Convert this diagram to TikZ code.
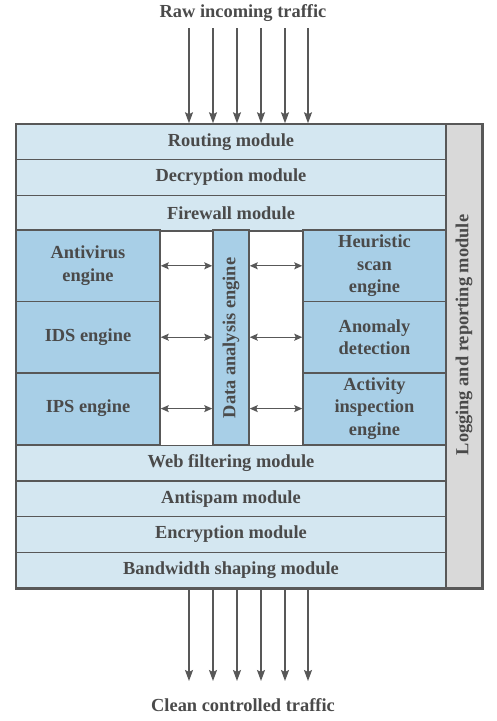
\documentclass[tikz,border=0pt]{standalone}
\usepackage{fontspec}
\setmainfont{Liberation Serif}
\usetikzlibrary{arrows.meta}
\definecolor{modfill}{HTML}{D4E7F1}
\definecolor{engfill}{HTML}{A8CFE7}
\definecolor{logfill}{HTML}{D9D9D9}
\definecolor{edge}{HTML}{585858}
\definecolor{txt}{HTML}{4A4A4A}
\begin{document}
\begin{tikzpicture}[x=1pt,y=-1pt,
  font=\fontsize{18.4}{22.5}\selectfont\bfseries,
  box/.style={draw=edge, line width=1.5pt, text=txt, inner sep=0pt, align=center},
  module/.style={box, fill=modfill, minimum width=430pt, minimum height=35.7pt},
  engine/.style={box, fill=engfill, minimum height=71.4pt},
  flow/.style={draw=edge, line width=1.7pt, -{Stealth[length=11pt,width=8pt,inset=2pt]}},
  dbl/.style={draw=edge, line width=1.1pt, {Stealth[length=8pt,width=7pt,inset=1.5pt]}-{Stealth[length=8pt,width=7pt,inset=1.5pt]}},
  lbl/.style={text=txt}]
\useasboundingbox (0,0) rectangle (496,721);
% top label and bottom label
\node[lbl] (raw) at (243,13) {Raw incoming traffic};
\node[lbl] (clean) at (243,705) {Clean controlled traffic};
% logging column
\node[box, fill=logfill, minimum width=36pt, minimum height=464pt] (log) at (464,356) {};
\node[lbl, rotate=90] (logtxt) at (464,335) {Logging and reporting module};
% top modules
\node[module] (routing) at (231,141.85) {Routing module};
\node[module] (decrypt) at (231,177.54) {Decryption module};
\node[module] (firewall) at (231,213.23) {Firewall module};
% engines
\node[engine, minimum width=144pt] (av) at (88,265.8) {Antivirus\\engine};
\node[engine, minimum width=144pt] (ids) at (88,337.2) {IDS engine};
\node[engine, minimum width=144pt] (ips) at (88,408.6) {IPS engine};
\node[engine, minimum width=143pt] (heur) at (374.5,265.8) {Heuristic\\scan\\engine};
\node[engine, minimum width=143pt] (anom) at (374.5,337.2) {Anomaly\\detection};
\node[engine, minimum width=143pt] (act) at (374.5,408.6) {Activity\\inspection\\engine};
\node[box, fill=engfill, minimum width=36pt, minimum height=214.2pt] (dae) at (231,337.2) {};
\node[lbl, rotate=90] (daetxt) at (231,338) {Data analysis engine};
% bottom modules
\node[module] (web) at (231,463.1) {Web filtering module};
\node[module] (spam) at (231,498.8) {Antispam module};
\node[module] (encrypt) at (231,534.5) {Encryption module};
\node[module] (band) at (231,570.2) {Bandwidth shaping module};
% outer frame
\draw[draw=edge, line width=1.5pt] (routing.north west) rectangle (log.south east);
% double arrows
\foreach \e in {av,ids,ips}{
  \draw[dbl] (\e.east) -- (\e.east -| dae.west);
}
\foreach \e in {heur,anom,act}{
  \draw[dbl] (\e.west -| dae.east) -- (\e.west);
}
% traffic arrows
\foreach \i/\x in {1/189,2/213,3/237,4/261,5/285,6/308}{
  \coordinate (in\i) at (\x,28);
  \coordinate (out\i) at (\x,681);
  \draw[flow] (in\i) -- (in\i |- routing.north);
  \draw[flow] (out\i |- band.south) -- (out\i);
}
\end{tikzpicture}
\end{document}
